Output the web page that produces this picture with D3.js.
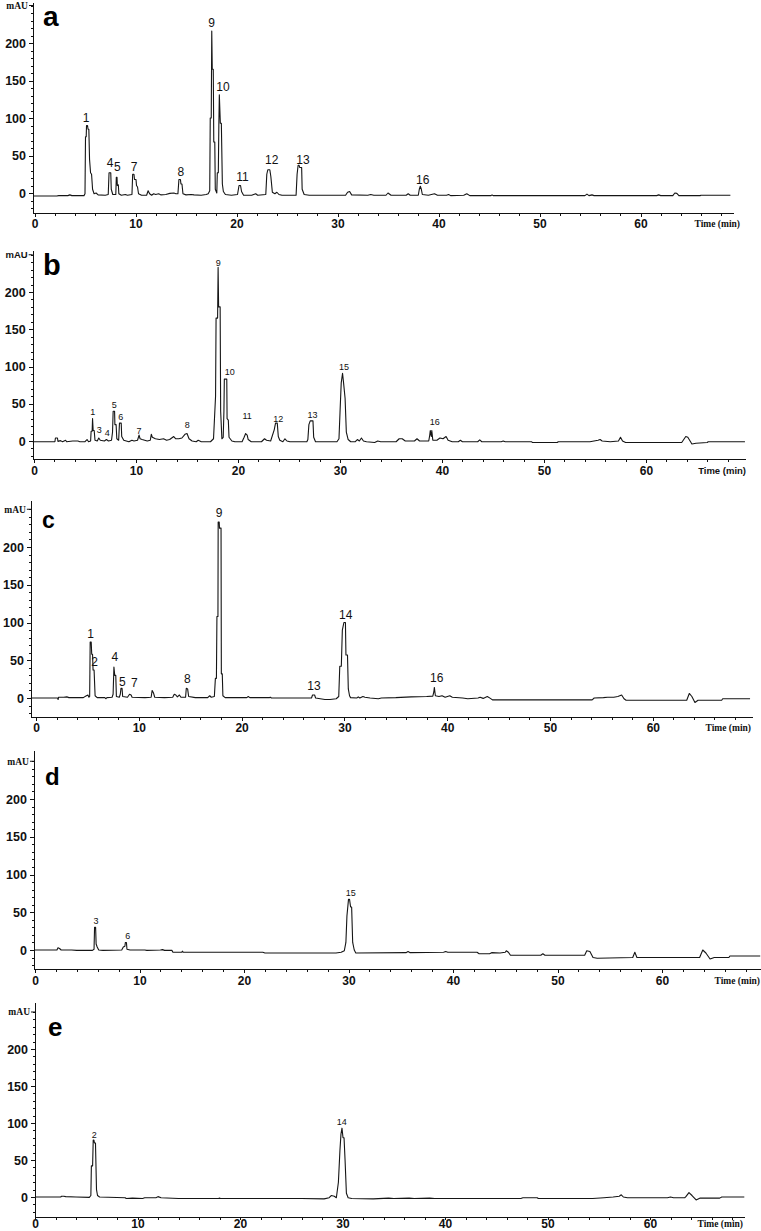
<!DOCTYPE html>
<html>
<head>
<meta charset="utf-8">
<script src="https://cdn.jsdelivr.net/npm/d3@7"></script>
<style>
  html, body { margin: 0; padding: 0; background: #fff; }
  svg { display: block; }
  .tickLabel text { font-family: "Liberation Sans", Arial, sans-serif; font-weight: bold; font-size: 12.5px; fill: #111; }
  .axis path, .axis line { stroke: #111; stroke-width: 1; shape-rendering: crispEdges; }
  .trace { fill: none; stroke: #151515; stroke-width: 1.1; stroke-linejoin: round; }
  .peakLabel { font-family: "Liberation Sans", Arial, sans-serif; fill: #111; text-anchor: middle; }
  .panelLetter { font-family: "Liberation Sans", Arial, sans-serif; font-weight: bold; fill: #000; }
  .unitLabel { font-weight: bold; fill: #111; }
</style>
</head>
<body>
<div id="chart"></div>
<script>
"use strict";

// tick values shared by all panels
let yTickValues = [0, 50, 100, 150, 200];
let yUnitTick = 250;
let xTickValues = [0, 10, 20, 30, 40, 50, 60];

// chromatogram a: [time (min), mAU]
let traceA = [[-0.15,-4],[2.2,-4],[2.4,-3.5],[3.3,-3.5],[3.5,-2.5],[3.7,-3.5],[4.9,-3.5],[5.0,-1],[5.05,75],[5.12,75],[5.15,90],[5.25,90],[5.3,85],[5.38,85],[5.45,45],[5.55,27],[5.65,25],[5.75,5],[5.9,-1],[6.1,0],[6.3,-2.5],[7.0,-3],[7.3,-2],[7.38,27],[7.55,27],[7.6,5],[7.75,-2],[8.05,-2],[8.1,21],[8.17,21],[8.2,10],[8.3,11],[8.35,-1],[8.6,-3],[9.0,-2],[9.2,-3],[9.65,-2],[9.72,25],[9.85,25],[9.9,18],[10.05,18],[10.1,10],[10.2,8],[10.3,-1],[10.6,-3],[11.1,-3],[11.25,3],[11.4,-1],[11.6,-3],[11.8,-1],[12.0,-2],[12.3,-1],[12.5,-2.5],[13.0,-2],[13.4,-0.5],[13.8,0],[14.0,-1],[14.2,-1],[14.3,18],[14.45,18],[14.5,12],[14.6,12],[14.7,-1],[15.0,-2.5],[15.5,-2],[15.8,-2.5],[16.5,-3],[17.0,-2],[17.2,-1],[17.35,3],[17.4,100],[17.5,100],[17.55,216],[17.6,165],[17.7,165],[17.75,68],[17.85,68],[17.9,5],[18.05,0],[18.1,27],[18.2,27],[18.25,88],[18.3,131],[18.4,93],[18.5,93],[18.6,12],[18.7,2],[18.9,-2],[19.5,-3],[20.1,-2],[20.25,10],[20.4,10],[20.5,2],[20.7,-3],[21.5,-3],[21.9,-1],[22.1,-3],[22.9,-2],[23.0,25],[23.1,31],[23.3,31],[23.4,22],[23.55,1],[23.8,-1],[24.0,1],[24.2,-2],[24.5,-3],[25.9,-3],[26.0,25],[26.1,37],[26.2,37],[26.25,34],[26.45,34],[26.5,5],[26.7,-2],[27.2,-3],[30.8,-3],[31.0,1],[31.2,2],[31.4,-2.5],[33.0,-3],[33.3,-2],[33.6,-3],[34.8,-3],[35.0,0],[35.3,-3],[36.8,-3],[37.0,-1],[37.2,-3],[38.0,-3],[38.1,5],[38.2,9],[38.3,5],[38.4,-2],[39.0,-3],[39.6,-1],[39.9,-3],[40.8,-3],[41.0,-2],[41.2,-3.5],[42.5,-3],[42.8,-1],[43.1,-3.5],[45.2,-3.5],[45.3,-2.5],[45.4,-3.5],[54.5,-3.5],[54.7,-1.5],[54.9,-3.5],[55.2,-2.5],[55.4,-3.5],[61.6,-3.5],[61.8,-2.5],[62.0,-3.5],[63.2,-3.5],[63.4,0],[63.6,-0.5],[63.8,-3.5],[65.9,-3.5],[66.0,-3],[68.9,-3]];
let peaksA = [["1",5.1,95],["4",7.48,35],["5",8.2,29],["7",9.85,29],["8",14.5,23],["9",17.54,221],["10",18.66,136],["11",20.6,16],["12",23.48,39],["13",26.58,39],["16",38.44,12]];

// chromatogram b
let traceB = [[-0.13,-1],[2.05,-1],[2.1,4],[2.3,4],[2.35,-0.5],[2.6,0.5],[2.8,-1],[3.1,1],[3.2,-1],[3.8,0],[4.3,0],[4.5,-1],[5.0,-1],[5.2,2],[5.35,-1],[5.55,0],[5.6,13],[5.7,13],[5.74,30],[5.8,14],[5.9,14],[5.98,1],[6.2,0],[6.35,4],[6.5,1],[6.9,0],[7.1,2],[7.3,0],[7.6,1],[7.7,12],[7.76,40],[7.9,40],[7.93,22],[8.05,22],[8.12,3],[8.3,1],[8.38,24],[8.55,24],[8.6,6],[8.8,1],[9.3,-1],[9.6,1],[9.8,0],[10.15,1],[10.3,8],[10.4,3],[10.6,2],[11.1,0],[11.4,1],[11.5,9],[11.6,5],[11.9,3],[12.3,2],[12.7,3],[13.0,1],[13.3,2],[13.7,6],[13.9,3],[14.2,3],[14.5,4],[14.8,9],[15.0,10],[15.2,3],[15.5,0],[15.9,-1],[16.1,1],[16.4,-1],[17.3,-1],[17.6,3],[17.8,60],[17.85,165],[18.0,165],[18.05,233],[18.1,180],[18.25,180],[18.3,40],[18.42,3],[18.55,5],[18.62,40],[18.66,83],[18.9,83],[18.93,30],[19.05,28],[19.12,5],[19.4,0],[19.7,-1],[20.4,-1],[20.6,5],[20.75,10],[20.9,8],[21.0,2],[21.3,-1],[22.3,-1],[22.6,3],[22.8,1],[23.2,0],[23.55,15],[23.68,24],[23.85,24],[23.95,6],[24.1,1],[24.4,-1],[24.6,3],[24.8,0],[25.1,-1],[26.5,-1],[26.75,-1],[26.85,2],[26.95,22],[27.08,27],[27.35,27],[27.42,5],[27.6,-1],[29.7,-1],[29.9,3],[30.0,38],[30.12,78],[30.25,91],[30.35,78],[30.5,57],[30.62,12],[30.8,2],[31.05,-1],[31.5,-1],[31.7,2],[31.9,0],[32.1,4],[32.3,0],[32.6,-1],[33.4,-2],[33.7,0],[34.0,-1],[35.5,-1],[35.8,3],[36.1,3],[36.4,0],[37.3,0],[37.55,3],[37.8,0],[38.7,0],[38.8,8],[38.85,14],[38.95,6],[39.0,14],[39.1,1],[39.5,1],[39.8,4],[40.1,3],[40.4,6],[40.6,1],[41.0,-1],[41.6,-1],[41.8,1],[42.0,-1],[43.5,-1],[43.7,1.5],[43.9,-1],[45.8,-1],[46.0,0],[46.2,-1],[48.8,-1],[48.85,-2],[51.3,-2],[51.4,-1],[54.5,-1],[55.3,1],[55.5,2],[55.7,0],[56.5,-1],[57.3,0],[57.5,5],[57.7,0],[58.0,-2],[63.5,-2],[63.9,6],[64.1,5],[64.5,-4],[64.9,-3],[66.0,-2],[66.1,-1],[69.7,-1]];
let peaksB = [["1",5.75,35],["3",6.4,11],["4",7.19,7],["5",7.87,44],["6",8.5,28],["7",10.3,10],["8",15.03,17],["9",18.07,235],["10",19.2,89],["11",20.9,29],["12",23.95,26],["13",27.3,31.5],["15",30.4,95],["16",39.3,21]];

// chromatogram c
let traceC = [[-0.5,0],[2.1,0],[2.15,-2],[2.2,1],[2.7,1],[3.0,1.5],[3.2,0.5],[4.6,0.5],[4.9,3],[5.05,4],[5.15,1],[5.22,2],[5.27,74],[5.37,74],[5.42,58],[5.5,58],[5.55,37],[5.65,37],[5.75,3],[5.95,0.5],[6.7,0.5],[6.8,-1],[6.9,0.5],[7.4,1],[7.5,5],[7.58,41],[7.66,30],[7.76,30],[7.82,2],[8.1,1],[8.2,5],[8.27,13],[8.37,13],[8.43,2],[8.9,1],[9.1,5],[9.25,4],[9.35,1],[10.6,0.5],[11.2,1],[11.3,10],[11.42,7],[11.55,1],[12.5,0.5],[13.3,1],[13.45,5],[13.6,4],[13.75,1.5],[13.95,4],[14.1,1],[14.55,1],[14.62,13],[14.75,12],[14.85,2],[15.5,0.5],[16.7,0.5],[16.9,3],[17.05,1],[17.35,2],[17.45,26],[17.55,26],[17.6,108],[17.7,108],[17.72,233],[17.82,233],[17.85,225],[18.0,225],[18.03,32],[18.12,32],[18.18,3],[18.4,0.5],[20.5,0.5],[20.65,2],[20.8,0.5],[22.7,0.5],[22.8,1],[22.9,0],[26.8,0],[26.9,4],[27.1,4],[27.2,0],[28.1,-2],[28.6,-2],[29.2,-1],[29.45,2],[29.55,42],[29.7,42],[29.8,90],[29.95,100],[30.1,100],[30.15,57],[30.3,57],[30.38,12],[30.5,3],[30.6,0.5],[31.2,0],[31.35,1.5],[31.5,0],[31.8,2],[32.0,1],[32.5,0],[33.3,-1],[33.6,0],[35.0,0.5],[36.5,1.5],[38.0,2],[38.6,2.5],[38.7,8],[38.75,14],[38.85,3],[39.2,2],[39.5,3],[39.8,1],[40.25,3],[40.5,1],[41.5,0],[42.0,-1],[43.0,0],[43.2,1],[43.5,-0.5],[43.9,2],[44.2,-0.5],[44.4,-2.5],[54.1,-2.5],[54.3,0],[55.2,0.5],[55.6,1],[56.2,1],[56.6,2],[56.97,4],[57.2,-1],[57.4,-3],[63.3,-3],[63.55,6],[63.8,2],[64.1,-6],[64.4,-3],[66.7,-3],[66.8,-1],[69.46,-1]];
let peaksC = [["1",5.32,79],["2",5.71,42],["4",7.66,49],["5",8.4,16.5],["7",9.56,14.5],["8",14.72,20.5],["9",17.8,240],["13",27.04,10.6],["14",30.13,104],["16",38.98,21]];

// chromatogram d
let traceD = [[-0.1,0],[2.1,0],[2.2,3],[2.35,2],[2.5,0],[3.5,0],[4.0,-0.5],[5.5,-0.5],[5.65,1],[5.7,30],[5.8,30],[5.85,8],[5.95,4],[6.1,0],[6.5,-0.5],[8.3,0],[8.45,4],[8.6,5],[8.65,10],[8.75,10],[8.8,1],[9.1,0],[10.5,0],[10.7,-0.5],[12.0,0],[12.2,0.5],[12.4,-0.5],[13.1,-0.5],[13.2,-3],[14.05,-3],[14.1,-1.5],[14.2,-3],[21.8,-3],[22.0,-4],[28.8,-4],[29.3,-3],[29.6,-1],[29.75,10],[29.85,45],[30.0,67],[30.1,67],[30.2,57],[30.3,57],[30.4,10],[30.55,0],[30.7,-4],[35.5,-3.5],[35.7,-2],[35.9,-3.5],[39.1,-3],[39.3,-2],[39.5,-3],[42.3,-3],[42.5,-5],[43.5,-5],[43.7,-3.5],[44.5,-4],[45.0,-3],[45.1,-1],[45.3,-3],[45.5,-7],[48.4,-7],[48.6,-5],[48.8,-7],[52.6,-7],[52.8,-1],[53.1,-2],[53.4,-10],[53.8,-11],[57.2,-10],[57.4,-3],[57.6,-10],[63.6,-10],[63.9,0],[64.2,-4],[64.6,-12],[65.0,-10],[66.4,-10],[66.5,-8],[69.4,-8]];
let peaksD = [["3",5.84,34],["6",8.87,14],["15",30.21,72]];

// chromatogram e
let traceE = [[0,0],[2.5,0],[2.6,1],[2.8,1],[3.0,0.5],[4.0,0],[5.3,-0.5],[5.45,2],[5.5,42],[5.62,42],[5.68,77],[5.75,77],[5.8,73],[5.9,73],[6.0,10],[6.1,2],[6.3,0],[8.8,-1],[8.9,-2],[9.5,-1.5],[10.5,-2],[10.7,-1],[11.8,-1],[12.0,0.5],[12.3,-1],[14.0,-2],[17.9,-2],[18.0,-1.5],[18.1,-2],[26.0,-2],[28.2,-2.5],[28.7,-1],[28.9,2],[29.2,1],[29.4,-1],[29.6,20],[29.75,63],[29.85,85],[29.95,93],[30.05,80],[30.15,80],[30.25,50],[30.38,5],[30.55,-1],[30.9,-2],[33.0,-2.5],[34.5,-1.5],[35.0,-2],[36.5,-1.5],[37.0,-2],[38.5,-1.5],[39.0,-2],[47.4,-2],[47.6,-1],[49.0,-1],[49.1,-2],[54.4,-2],[55.5,-1],[56.4,0],[57.0,1],[57.2,3],[57.4,0],[57.8,-1],[61.7,-1],[62.0,0],[62.3,-1],[63.4,-1],[63.5,0.5],[63.8,6],[64.1,2],[64.5,-4],[64.9,-1.5],[66.8,-1.5],[67.0,0],[69.2,0]];
let peaksE = [["2",5.79,80],["14",29.92,97]];

// page layout for each panel (pixels)
let panels = [
  { letter: "a", trace: traceA, peaks: peaksA,
    x0: 34.5, ppm: 10.1, tMin: -0.15, axisEnd: 733, y0: 193, ppu: 0.75, top: 2, xAxisY: 213,
    timeX: 740, letterX: 43, letterY: 26, letterSize: 28, peakSize: 12, unitFont: "serif", xTick: 4, xPad: 2 },
  { letter: "b", trace: traceB, peaks: peaksB,
    x0: 34, ppm: 10.2, tMin: -0.13, axisEnd: 745, y0: 441, ppu: 0.745, top: 250, xAxisY: 459,
    timeX: 746, letterX: 43, letterY: 275, letterSize: 29, peakSize: 9, unitFont: "sans", xTick: 4, xPad: 3 },
  { letter: "c", trace: traceC, peaks: peaksC,
    x0: 36, ppm: 10.28, tMin: -0.5, axisEnd: 752, y0: 698, ppu: 0.755, top: 500, xAxisY: 717,
    timeX: 751, letterX: 42, letterY: 528, letterSize: 23, peakSize: 12, unitFont: "serif", xTick: 4, xPad: 2 },
  { letter: "d", trace: traceD, peaks: peaksD,
    x0: 35, ppm: 10.45, tMin: -0.1, axisEnd: 760, y0: 950, ppu: 0.755, top: 750, xAxisY: 969,
    timeX: 760, letterX: 45, letterY: 785, letterSize: 24, peakSize: 9, unitFont: "serif", xTick: 4, xPad: 3 },
  { letter: "e", trace: traceE, peaks: peaksE,
    x0: 35, ppm: 10.25, tMin: 0, axisEnd: 744, y0: 1197, ppu: 0.74, top: 1002, xAxisY: 1217,
    timeX: 743, letterX: 48, letterY: 1036, letterSize: 26, peakSize: 9, unitFont: "serif", xTick: 3, xPad: -1 }
];

let width = 761;
let height = 1231;

let svg = d3.select("#chart").append("svg")
  .attr("width", width)
  .attr("height", height)
  .attr("viewBox", [0, 0, width, height].join(" "));

panels.forEach(drawPanel);

function drawPanel(p) {
  let g = svg.append("g");

  let tMax = p.tMin + (p.axisEnd - (p.x0 + p.tMin * p.ppm)) / p.ppm;
  let x = d3.scaleLinear()
    .domain([p.tMin, tMax])
    .range([p.x0 + p.tMin * p.ppm, p.axisEnd]);

  let vMin = (p.y0 - p.xAxisY) / p.ppu;
  let vMax = (p.y0 - p.top) / p.ppu;
  let y = d3.scaleLinear()
    .domain([vMin, vMax])
    .range([p.xAxisY, p.top]);

  let axisX = x(p.tMin);
  let unitFamily = p.unitFont === "serif" ? "'Liberation Serif', 'Times New Roman', serif" : "'Liberation Sans', Arial, sans-serif";

  // y axis: minor ticks every 10 mAU
  g.append("g")
    .attr("class", "axis")
    .attr("transform", `translate(${axisX},0)`)
    .call(d3.axisLeft(y).tickValues(d3.range(-20, 251, 10)).tickSize(2).tickSizeOuter(0).tickFormat(""));

  let yMajor = g.append("g")
    .attr("class", "axis tickLabel")
    .attr("transform", `translate(${axisX},0)`)
    .call(d3.axisLeft(y).tickValues(yTickValues).tickSize(4).tickPadding(3).tickSizeOuter(0));
  yMajor.select(".domain").remove();

  // unit label sits on the 250 tick
  g.append("line")
    .attr("class", "axis")
    .attr("x1", axisX - 4).attr("x2", axisX)
    .attr("y1", y(yUnitTick)).attr("y2", y(yUnitTick))
    .style("stroke", "#111");
  g.append("text")
    .attr("class", "unitLabel")
    .attr("x", axisX - 5)
    .attr("y", y(yUnitTick))
    .attr("dy", "0.35em")
    .style("text-anchor", "end")
    .style("font-family", unitFamily)
    .style("font-size", "9.5px")
    .text("mAU");

  // x axis: minor ticks every 2 min
  g.append("g")
    .attr("class", "axis")
    .attr("transform", `translate(0,${p.xAxisY})`)
    .call(d3.axisBottom(x).tickValues(d3.range(0, tMax, 2)).tickSize(2.5).tickSizeOuter(0).tickFormat(""));

  let xMajor = g.append("g")
    .attr("class", "axis tickLabel")
    .attr("transform", `translate(0,${p.xAxisY})`)
    .call(d3.axisBottom(x).tickValues(xTickValues).tickSize(p.xTick).tickPadding(p.xPad).tickSizeOuter(0));
  xMajor.select(".domain").remove();
  xMajor.selectAll("text").style("font-size", "12px");

  g.append("text")
    .attr("class", "unitLabel")
    .attr("x", p.timeX)
    .attr("y", p.xAxisY + 8 + p.xTick + p.xPad)
    .style("text-anchor", "end")
    .style("font-family", unitFamily)
    .style("font-size", "9.5px")
    .text("Time (min)");

  // trace
  let line = d3.line()
    .x(d => x(d[0]))
    .y(d => y(d[1]));

  g.append("path")
    .datum(p.trace)
    .attr("class", "trace")
    .attr("d", line);

  // peak numbers
  g.selectAll(".peakLabel")
    .data(p.peaks)
    .enter().append("text")
    .attr("class", "peakLabel")
    .attr("x", d => x(d[1]))
    .attr("y", d => y(d[2]))
    .style("font-size", p.peakSize + "px")
    .text(d => d[0]);

  // panel letter
  g.append("text")
    .attr("class", "panelLetter")
    .attr("x", p.letterX)
    .attr("y", p.letterY)
    .style("font-size", p.letterSize + "px")
    .text(p.letter);
}
</script>
</body>
</html>
